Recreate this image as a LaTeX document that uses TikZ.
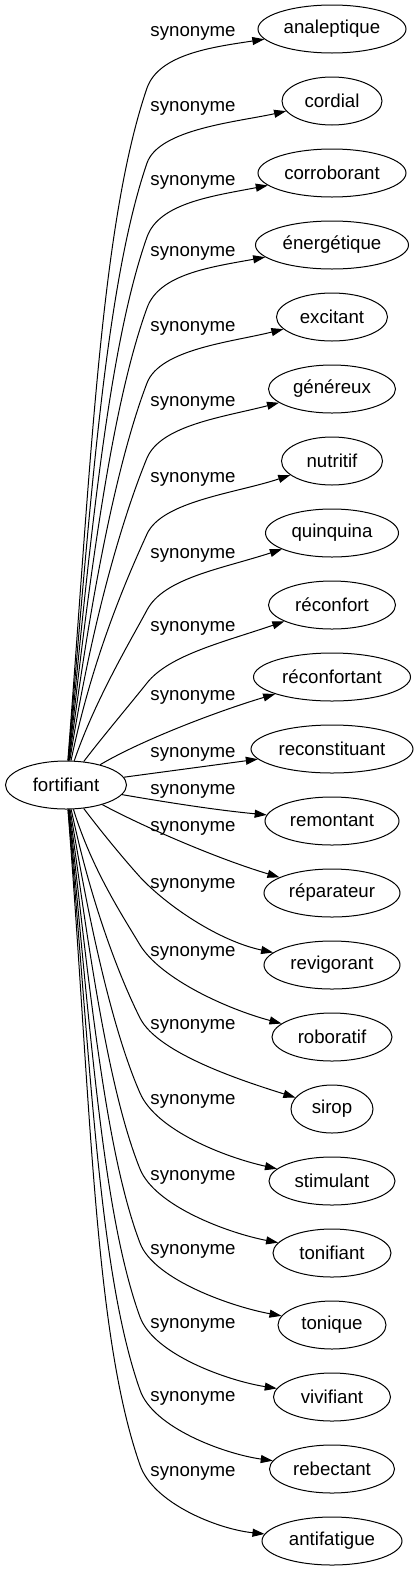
\documentclass[tikz,border=0pt]{standalone}
\usepackage{fontspec}
\setmainfont{Liberation Sans}
\usepackage{tikz}
\usetikzlibrary{arrows.meta,shapes.geometric}

\begin{document}
\begin{tikzpicture}[x=0.75pt,y=-0.75pt,
	line width=0.75pt,
	>={Triangle[length=9pt,width=6pt]},
	mot/.style={ellipse, draw, inner sep=0pt, minimum height=36pt, font=\fontsize{14pt}{16pt}\selectfont},
	syn/.style={inner sep=1pt, font=\fontsize{14pt}{16pt}\selectfont}]
	%\draw [help lines] (0,0) grid (419,1571);
	\useasboundingbox (0,0) rectangle (419,1571);
	%Parola
	\node [mot, minimum width=90.75pt] (fortifiant) at (66,785) {fortifiant};
	%Sinonimi
	\node [mot, minimum width=111pt] (analeptique) at (332,29) {analeptique};
	\node [mot, minimum width=75pt] (cordial) at (332,101) {cordial};
	\node [mot, minimum width=111pt] (corroborant) at (332,173) {corroborant};
	\node [mot, minimum width=114.75pt] (energetique) at (332,245) {énergétique};
	\node [mot, minimum width=83.25pt] (excitant) at (332,317) {excitant};
	\node [mot, minimum width=95.25pt] (genereux) at (332,389) {généreux};
	\node [mot, minimum width=75.75pt] (nutritif) at (332,461) {nutritif};
	\node [mot, minimum width=99.75pt] (quinquina) at (332,533) {quinquina};
	\node [mot, minimum width=95.25pt] (reconfort) at (332,605) {réconfort};
	\node [mot, minimum width=117.75pt] (reconfortant) at (332,677) {réconfortant};
	\node [mot, minimum width=121.5pt] (reconstituant) at (332,749) {reconstituant};
	\node [mot, minimum width=100.5pt] (remontant) at (332,821) {remontant};
	\node [mot, minimum width=102pt] (reparateur) at (332,893) {réparateur};
	\node [mot, minimum width=102pt] (revigorant) at (332,965) {revigorant};
	\node [mot, minimum width=90pt] (roboratif) at (332,1037) {roboratif};
	\node [mot, minimum width=61.5pt] (sirop) at (332,1109) {sirop};
	\node [mot, minimum width=94.5pt] (stimulant) at (332,1181) {stimulant};
	\node [mot, minimum width=88.5pt] (tonifiant) at (332,1253) {tonifiant};
	\node [mot, minimum width=81pt] (tonique) at (332,1325) {tonique};
	\node [mot, minimum width=87.75pt] (vivifiant) at (332,1397) {vivifiant};
	\node [mot, minimum width=93.75pt] (rebectant) at (332,1469) {rebectant};
	\node [mot, minimum width=105pt] (antifatigue) at (332,1541) {antifatigue};
	%Etichette
	\node [syn] (syn1) at (193,33) {synonyme};
	\node [syn] (syn2) at (193,108) {synonyme};
	\node [syn] (syn3) at (193,182) {synonyme};
	\node [syn] (syn4) at (193,253) {synonyme};
	\node [syn] (syn5) at (193,328) {synonyme};
	\node [syn] (syn6) at (193,403) {synonyme};
	\node [syn] (syn7) at (193,479) {synonyme};
	\node [syn] (syn8) at (193,555) {synonyme};
	\node [syn] (syn9) at (193,628) {synonyme};
	\node [syn] (syn10) at (193,697) {synonyme};
	\node [syn] (syn11) at (193,754) {synonyme};
	\node [syn] (syn12) at (193,791) {synonyme};
	\node [syn] (syn13) at (193,828) {synonyme};
	\node [syn] (syn14) at (193,885) {synonyme};
	\node [syn] (syn15) at (193,953) {synonyme};
	\node [syn] (syn16) at (193,1026) {synonyme};
	\node [syn] (syn17) at (193,1101) {synonyme};
	\node [syn] (syn18) at (193,1177) {synonyme};
	\node [syn] (syn19) at (193,1251) {synonyme};
	\node [syn] (syn20) at (193,1325) {synonyme};
	\node [syn] (syn21) at (193,1398) {synonyme};
	\node [syn] (syn22) at (193,1473) {synonyme};
	%Archi verso l'alto
	\draw [->] (fortifiant) .. controls (91,459) and (101,223) .. (147,88) .. controls (159,54) and (213,47) .. (analeptique);
	\draw [->] (fortifiant) .. controls (91,492) and (106,283) .. (147,163) .. controls (159,129) and (237,122) .. (cordial);
	\draw [->] (fortifiant) .. controls (91,526) and (110,342) .. (147,237) .. controls (159,203) and (213,196) .. (corroborant);
	\draw [->] (fortifiant) .. controls (91,558) and (114,399) .. (147,308) .. controls (159,274) and (211,267) .. (energetique);
	\draw [->] (fortifiant) .. controls (91,591) and (118,459) .. (147,383) .. controls (160,349) and (232,342) .. (excitant);
	\draw [->] (fortifiant) .. controls (91,625) and (122,519) .. (147,458) .. controls (161,425) and (224,417) .. (genereux);
	\draw [->] (fortifiant) .. controls (92,659) and (126,580) .. (147,534) .. controls (162,501) and (237,493) .. (nutritif);
	\draw [->] (fortifiant) .. controls (95,700) and (131,640) .. (147,610) .. controls (164,578) and (221,569) .. (quinquina);
	\draw [->] (fortifiant) .. controls (100,740) and (131,703) .. (147,683) .. controls (169,655) and (224,642) .. (reconfort);
	%Archi centrali
	\draw [->] (fortifiant) .. controls (140,741) and (215,712) .. (reconfortant);
	\draw [->] (fortifiant) .. controls (170,771) and (215,765) .. (reconstituant);
	\draw [->] (fortifiant) .. controls (165,802) and (215,810) .. (remontant);
	\draw [->] (fortifiant) .. controls (140,825) and (215,858) .. (reparateur);
	%Archi verso il basso
	\draw [->] (fortifiant) .. controls (100,830) and (122,857) .. (140,877) .. controls (167,906) and (219,941) .. (revigorant);
	\draw [->] (fortifiant) .. controls (92,870) and (124,918) .. (140,945) .. controls (161,979) and (227,1009) .. (roboratif);
	\draw [->] (fortifiant) .. controls (91,903) and (119,976) .. (140,1018) .. controls (158,1054) and (246,1082) .. (sirop);
	\draw [->] (fortifiant) .. controls (91,936) and (115,1036) .. (140,1093) .. controls (156,1130) and (224,1157) .. (stimulant);
	\draw [->] (fortifiant) .. controls (91,970) and (111,1097) .. (140,1169) .. controls (155,1206) and (228,1233) .. (tonifiant);
	\draw [->] (fortifiant) .. controls (91,1004) and (107,1156) .. (140,1243) .. controls (154,1280) and (233,1307) .. (tonique);
	\draw [->] (fortifiant) .. controls (91,1037) and (103,1215) .. (140,1317) .. controls (154,1355) and (229,1381) .. (vivifiant);
	\draw [->] (fortifiant) .. controls (91,1070) and (99,1274) .. (140,1390) .. controls (153,1428) and (225,1454) .. (rebectant);
	\draw [->] (fortifiant) .. controls (91,1104) and (94,1334) .. (140,1465) .. controls (153,1503) and (217,1529) .. (antifatigue);
\end{tikzpicture}
\end{document}
